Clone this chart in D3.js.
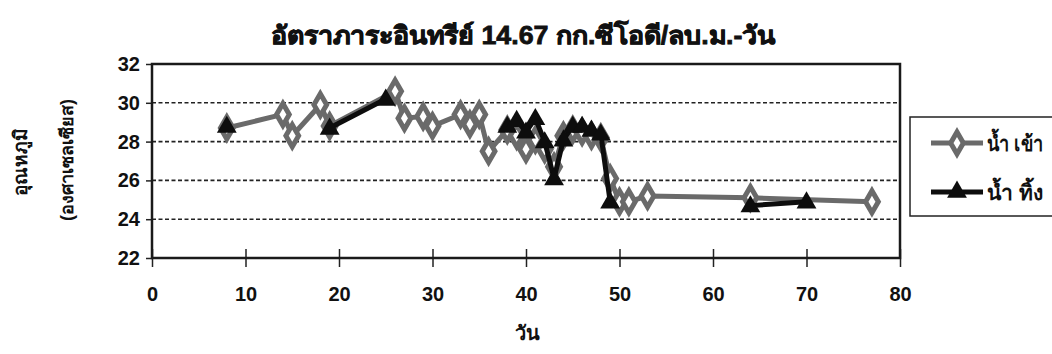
<!DOCTYPE html>
<html>
<head>
<meta charset="utf-8">
<script src="https://cdn.jsdelivr.net/npm/d3@7"></script>
<style>
  html, body { margin: 0; padding: 0; background: #fff; }
  svg { display: block; }
  text { font-family: "Liberation Sans", Arial, sans-serif; font-weight: bold; fill: #111; }
</style>
</head>
<body>
<svg id="chart" width="1052" height="354"></svg>
<script>
// Temperature of inflow and effluent over the run, organic loading 14.67 kg COD/m3-day
const chartTitle = "อัตราภาระอินทรีย์ 14.67 กก.ซีโอดี/ลบ.ม.-วัน";
const xTitle = "วัน";
const yTitleMain = "อุณหภูมิ";
const yTitleUnit = "(องศาเซลเซียส)";
const seriesNames = ["น้ำ เข้า", "น้ำ ทิ้ง"];

const xTicks = [0, 10, 20, 30, 40, 50, 60, 70, 80];
const yTicks = [22, 24, 26, 28, 30, 32];

// inflow (น้ำ เข้า)
const inflowDays = [8, 14, 15, 18, 19, 26, 27, 29, 30, 33, 34, 35, 36, 38, 39, 40, 41, 42, 43, 44, 45, 46, 47, 48, 49, 50, 51, 53, 64, 77];
const inflowTemp = [28.7, 29.4, 28.3, 29.9, 28.8, 30.6, 29.2, 29.3, 28.8, 29.4, 28.9, 29.4, 27.5, 28.6, 28.3, 27.6, 28.1, 27.6, 26.7, 28.3, 28.6, 28.5, 28.3, 28.2, 26.1, 24.9, 24.9, 25.2, 25.1, 24.9];

// effluent (น้ำ ทิ้ง); null = not recorded, line is broken there
const effluentDays = [8, 14, 19, 25, 26, 38, 39, 40, 41, 42, 43, 44, 45, 46, 47, 48, 49, 50, 64, 70];
const effluentTemp = [28.8, null, 28.7, 30.2, null, 28.8, 29.1, 28.5, 29.2, 28.0, 26.1, 28.1, 28.8, 28.8, 28.6, 28.4, 24.9, null, 24.7, 24.9];

const svg = d3.select("#chart");
const plot = { left: 152, right: 900, top: 64, bottom: 258 };

const x = d3.scaleLinear().domain([0, 80]).range([plot.left, plot.right]);
const y = d3.scaleLinear().domain([22, 32]).range([plot.bottom, plot.top]);

const tickFont = "'Liberation Sans Narrow', 'Liberation Sans', Arial, sans-serif";

// title
svg.append("text")
  .attr("x", 523).attr("y", 44)
  .attr("text-anchor", "middle")
  .attr("textLength", 505).attr("lengthAdjust", "spacingAndGlyphs")
  .style("font-size", "25px")
  .style("font-weight", "900")
  .style("stroke", "#111").style("stroke-width", 0.8)
  .text(chartTitle);

// horizontal dashed gridlines
svg.append("g")
  .selectAll("line")
  .data(yTicks.filter(v => v > 22 && v < 32))
  .join("line")
  .attr("x1", plot.left).attr("x2", plot.right)
  .attr("y1", d => y(d)).attr("y2", d => y(d))
  .attr("stroke", "#222").attr("stroke-width", 1.6)
  .attr("stroke-dasharray", "4,2.5");

// y axis
const yAxis = svg.append("g")
  .attr("transform", `translate(${plot.left},0)`)
  .call(d3.axisLeft(y).tickValues(yTicks).tickSize(6).tickPadding(6).tickFormat(d3.format("d")));
yAxis.select(".domain").remove();
yAxis.selectAll(".tick line").attr("stroke", "#222").attr("stroke-width", 1.5);
yAxis.selectAll(".tick text")
  .style("font-size", "20px").style("font-family", tickFont)
  .style("font-weight", "bold").attr("fill", "#111");

// x axis: ticks cross the bottom edge, labels sit well below it
const xAxis = svg.append("g")
  .attr("transform", `translate(0,${plot.bottom})`)
  .call(d3.axisBottom(x).tickValues(xTicks).tickSize(9).tickPadding(20).tickFormat(d3.format("d")));
xAxis.select(".domain").remove();
xAxis.selectAll(".tick line").attr("y1", -9).attr("stroke", "#222").attr("stroke-width", 1.5);
xAxis.selectAll(".tick text")
  .style("font-size", "20px").style("font-family", tickFont)
  .style("font-weight", "bold").attr("fill", "#111");

// plot frame
svg.append("rect")
  .attr("x", plot.left).attr("y", plot.top)
  .attr("width", plot.right - plot.left).attr("height", plot.bottom - plot.top)
  .attr("fill", "none").attr("stroke", "#1a1a1a").attr("stroke-width", 2.5);

// axis titles
svg.append("text")
  .attr("x", 527).attr("y", 340)
  .attr("text-anchor", "middle")
  .style("font-size", "20px")
  .text(xTitle);
svg.append("text")
  .attr("transform", "translate(27,162) rotate(-90)")
  .attr("text-anchor", "middle")
  .style("font-size", "19px")
  .text(yTitleMain);
svg.append("text")
  .attr("transform", "translate(73,160) rotate(-90)")
  .attr("text-anchor", "middle")
  .style("font-size", "18px")
  .text(yTitleUnit);

const inflowColor = "#6a6a6a";
const effluentColor = "#0d0d0d";

const inflowData = inflowDays.map((d, i) => ({ day: d, temp: inflowTemp[i] }));
const effluentData = effluentDays.map((d, i) => ({ day: d, temp: effluentTemp[i] }));

const line = d3.line()
  .defined(d => d.temp !== null)
  .x(d => x(d.day)).y(d => y(d.temp));

const diamond = d3.symbol().type(d3.symbolDiamond).size(140);
const triangle = d3.symbol().type(d3.symbolTriangle).size(170);

// inflow series
svg.append("path")
  .datum(inflowData)
  .attr("d", line)
  .attr("fill", "none").attr("stroke", inflowColor)
  .attr("stroke-width", 5).attr("stroke-linejoin", "round");
svg.append("g")
  .selectAll("path")
  .data(inflowData)
  .join("path")
  .attr("d", diamond)
  .attr("transform", d => `translate(${x(d.day)},${y(d.temp)})`)
  .attr("fill", "#fff").attr("stroke", inflowColor).attr("stroke-width", 5);

// effluent series
svg.append("path")
  .datum(effluentData)
  .attr("d", line)
  .attr("fill", "none").attr("stroke", effluentColor)
  .attr("stroke-width", 5).attr("stroke-linejoin", "round");
svg.append("g")
  .selectAll("path")
  .data(effluentData.filter(d => d.temp !== null))
  .join("path")
  .attr("d", triangle)
  .attr("transform", d => `translate(${x(d.day)},${y(d.temp) + 1})`)
  .attr("fill", effluentColor);

// legend
const legend = svg.append("g");
legend.append("rect")
  .attr("x", 910).attr("y", 117).attr("width", 150).attr("height", 99)
  .attr("fill", "#fff").attr("stroke", "#222").attr("stroke-width", 1.5);

const legendRows = [
  { name: seriesNames[0], color: inflowColor, symbol: diamond, y: 143, hollow: true },
  { name: seriesNames[1], color: effluentColor, symbol: triangle, y: 192, hollow: false }
];
legendRows.forEach(r => {
  legend.append("line")
    .attr("x1", 931).attr("x2", 983).attr("y1", r.y).attr("y2", r.y)
    .attr("stroke", r.color).attr("stroke-width", 5);
  legend.append("path")
    .attr("d", r.symbol)
    .attr("transform", `translate(957,${r.y})`)
    .attr("fill", r.hollow ? "#fff" : r.color)
    .attr("stroke", r.hollow ? r.color : "none")
    .attr("stroke-width", 5);
  legend.append("text")
    .attr("x", 987).attr("y", r.y + 8)
    .attr("textLength", 56).attr("lengthAdjust", "spacingAndGlyphs")
    .style("font-size", "21px")
    .text(r.name);
});
</script>
</body>
</html>
